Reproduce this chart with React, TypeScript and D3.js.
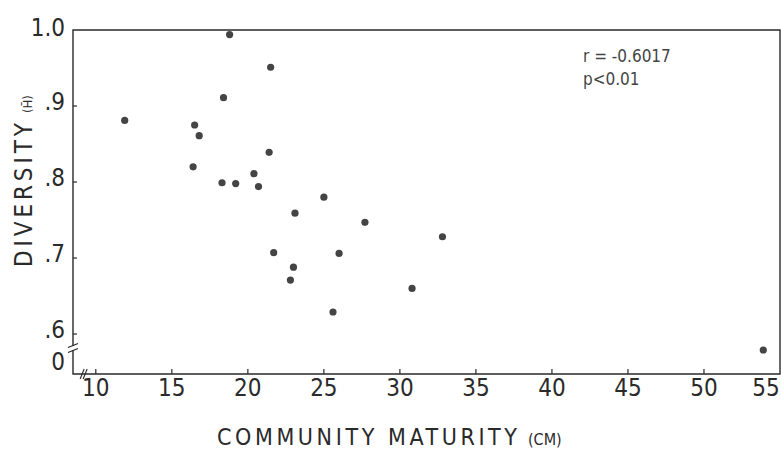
import React, { useEffect, useRef } from "react";
import * as d3 from "d3";

// community maturity (cm) and diversity (H) for each sample
const maturity = [
  18.8, 21.5, 18.4, 11.9, 16.5, 16.8, 21.4, 16.4, 20.4, 18.3, 19.2, 20.7,
  25.0, 23.1, 27.7, 32.8, 21.7, 26.0, 23.0, 22.8, 30.8, 25.6, 53.9,
];
const diversity = [
  0.994, 0.951, 0.911, 0.881, 0.875, 0.861, 0.839, 0.82, 0.811, 0.799, 0.798,
  0.794, 0.78, 0.759, 0.747, 0.728, 0.707, 0.706, 0.688, 0.671, 0.66, 0.629,
  0.579,
];
const xTicks = [10, 15, 20, 25, 30, 35, 40, 45, 50];
const yTicks = [0.6, 0.7, 0.8, 0.9];
const yTickLabels = [".6", ".7", ".8", ".9"];
const stats = ["r = -0.6017", "p<0.01"];

const width = 781;
const height = 449;
const font = "'DejaVu Sans Condensed', 'DejaVu Sans', sans-serif";
const ink = "#2a2a2a";

const App = () => {
  const ref: any = useRef();

  const margin = { top: 30, right: 1, bottom: 75, left: 73 };

  useEffect(() => {
    const svg = d3.select(ref.current);
    svg.selectAll("*").remove();

    const xScale = d3
      .scaleLinear()
      .domain([8.5, 55])
      .range([margin.left, width - margin.right]);

    // axis is broken below .6, bottom edge sits a little under it
    const yScale = d3
      .scaleLinear()
      .domain([0.5474, 1.0])
      .range([height - margin.bottom, margin.top]);

    const x0 = xScale.range()[0];
    const x1 = xScale.range()[1];
    const y0 = yScale.range()[0];
    const y1 = yScale.range()[1];

    // frame
    svg
      .append("path")
      .attr("d", `M${x0},${y1}H${x1}V${y0}H${x0}Z`)
      .attr("fill", "none")
      .attr("stroke", ink)
      .attr("stroke-width", 1.4);

    // x ticks (inward)
    const xAxis = svg.append("g");
    xAxis
      .selectAll("line")
      .data(xTicks)
      .join("line")
      .attr("x1", (d: any) => xScale(d))
      .attr("x2", (d: any) => xScale(d))
      .attr("y1", y0)
      .attr("y2", y0 - 5)
      .attr("stroke", ink)
      .attr("stroke-width", 1.2);
    xAxis
      .selectAll("text")
      .data([...xTicks, 55])
      .join("text")
      .attr("x", (d: any) => xScale(d) - (d === 55 ? 14 : 0))
      .attr("y", y0 + 22)
      .attr("text-anchor", "middle")
      .attr("font-family", font)
      .attr("font-size", 24)
      .attr("fill", ink)
      .text((d: any) => d);

    // y ticks (inward)
    const yAxis = svg.append("g");
    yAxis
      .selectAll("line")
      .data(yTicks)
      .join("line")
      .attr("x1", x0)
      .attr("x2", x0 + 4)
      .attr("y1", (d: any) => yScale(d))
      .attr("y2", (d: any) => yScale(d))
      .attr("stroke", ink)
      .attr("stroke-width", 1.2);
    yAxis
      .selectAll("text")
      .data(yTicks)
      .join("text")
      .attr("x", x0 - 8)
      .attr("y", (d: any) => yScale(d) + 4)
      .attr("text-anchor", "end")
      .attr("font-family", font)
      .attr("font-size", 24)
      .attr("fill", ink)
      .text((_: any, i: number) => yTickLabels[i]);
    yAxis
      .append("text")
      .attr("x", x0 - 8)
      .attr("y", yScale(1.0) + 6)
      .attr("text-anchor", "end")
      .attr("font-family", font)
      .attr("font-size", 24)
      .attr("fill", ink)
      .text("1.0");
    yAxis
      .append("text")
      .attr("x", x0 - 8)
      .attr("y", y0 - 4)
      .attr("text-anchor", "end")
      .attr("font-family", font)
      .attr("font-size", 24)
      .attr("fill", ink)
      .text("0");

    // axis break marks
    const yb = yScale(0.5816);
    svg
      .append("rect")
      .attr("x", x0 - 2)
      .attr("y", yb - 2)
      .attr("width", 4)
      .attr("height", 4)
      .attr("fill", "#fff");
    [-2.5, 2.5].forEach((o) =>
      svg
        .append("line")
        .attr("x1", x0 - 5)
        .attr("x2", x0 + 5)
        .attr("y1", yb + o + 2)
        .attr("y2", yb + o - 2)
        .attr("stroke", ink)
        .attr("stroke-width", 1.2)
    );
    const xb = xScale(9.2);
    [-1.5, 1.5].forEach((o) =>
      svg
        .append("line")
        .attr("x1", xb + o - 2)
        .attr("x2", xb + o + 2)
        .attr("y1", y0 + 5)
        .attr("y2", y0 - 5)
        .attr("stroke", ink)
        .attr("stroke-width", 1.1)
    );

    // points
    svg
      .append("g")
      .selectAll("circle")
      .data(maturity)
      .join("circle")
      .attr("cx", (d: any) => xScale(d))
      .attr("cy", (_: any, i: number) => yScale(diversity[i]))
      .attr("r", 3.6)
      .attr("fill", "#444");

    // stats note
    svg
      .append("g")
      .selectAll("text")
      .data(stats)
      .join("text")
      .attr("x", 583)
      .attr("y", (_: any, i: number) => 62 + i * 23)
      .attr("font-family", font)
      .attr("font-size", 17)
      .attr("fill", "#444")
      .text((d: any) => d);

    // X axis label
    const xLabel = svg
      .append("text")
      .attr("x", 217)
      .attr("y", 445)
      .attr("font-family", font)
      .attr("fill", ink);
    xLabel
      .append("tspan")
      .attr("font-size", 23)
      .attr("textLength", 300)
      .attr("lengthAdjust", "spacing")
      .text("COMMUNITY MATURITY");
    xLabel
      .append("tspan")
      .attr("x", 528)
      .attr("font-size", 16)
      .text("(CM)");

    // Y axis label
    const yLabel = svg
      .append("text")
      .attr("transform", `translate(32, 267) rotate(-90)`)
      .attr("font-family", font)
      .attr("fill", ink);
    yLabel
      .append("tspan")
      .attr("font-size", 24)
      .attr("textLength", 144)
      .attr("lengthAdjust", "spacing")
      .text("DIVERSITY");
    yLabel
      .append("tspan")
      .attr("x", 154)
      .attr("font-size", 13)
      .text("(H\u0304)");
  }, []);

  return (
    <div style={{ position: "absolute", left: 0, top: 0 }}>
      <svg ref={ref} width={width} height={height} style={{ display: "block", background: "#fff" }}></svg>
    </div>
  );
};

export default App;
